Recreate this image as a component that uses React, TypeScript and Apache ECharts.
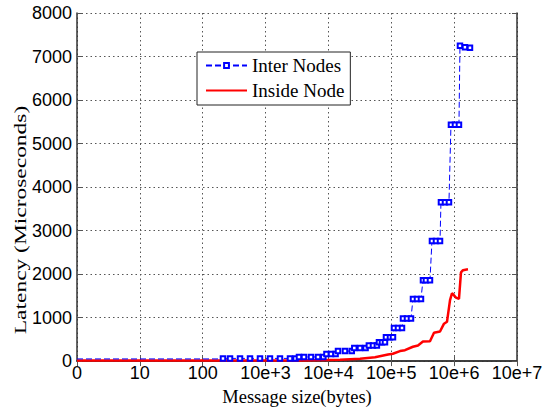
import React, { useEffect, useRef } from 'react';
import * as echarts from 'echarts';

const xTickLabels = ['0', '10', '100', '10e+3', '10e+4', '10e+5', '10e+6', '10e+7'];

const interX = [
  1, 200,
  210, 272, 392, 565, 815, 1175, 1695, 2445, 3000,
  3400, 4085, 5275, 6820, 8300,
  9300, 11000, 13000,
  14200, 18330, 23500,
  25800, 31770, 39000,
  44000, 51150, 59000,
  63700, 71100, 79350,
  82300, 95300, 106400,
  110400, 127800, 148000,
  153500, 177800, 205700,
  221400, 256400, 296700,
  319400, 356000, 412600,
  443700, 514000, 596000,
  617000, 715000, 827000,
  890000, 1031000, 1193000,
  1238000, 1486000, 1786000,
];
const interY = [
  50, 50,
  62, 62, 62, 62, 62, 62, 62, 62, 62,
  95, 95, 95, 95, 95,
  165, 165, 165,
  230, 230, 230,
  300, 300, 300,
  360, 360, 360,
  435, 435, 435,
  550, 550, 550,
  760, 760, 760,
  980, 980, 980,
  1430, 1430, 1430,
  1860, 1860, 1860,
  2760, 2760, 2760,
  3650, 3650, 3650,
  5430, 5430, 5430,
  7250, 7210, 7200,
];

const insideX = [
  1, 3530, 15300, 31800, 55100, 88700, 106000, 137500, 165000, 221000, 266000,
  319000, 413000, 478000, 596000, 690000, 770000, 860000, 924000, 1070000,
  1194000, 1285000, 1384000, 1660000,
];
const insideY = [
  15, 15, 30, 55, 90, 150, 170, 230, 250, 330, 360,
  450, 455, 650, 680, 860, 905, 1400, 1560, 1460,
  1430, 2040, 2090, 2110,
];

export default function App() {
  const ref = useRef<HTMLDivElement>(null);
  useEffect(() => {
    const chart = echarts.init(ref.current!, null, { renderer: 'svg' });
    const tickLabel = (v: number) => {
      const i = Math.round(Math.log10(v));
      return xTickLabels[i] ?? '';
    };
    const axisLine = { show: true, lineStyle: { color: '#333', width: 1.5 } };
    const axisTick = { show: true, inside: true, length: 5, lineStyle: { color: '#555', width: 1 } };
    const gridLine = { show: true, lineStyle: { color: '#555', width: 1, type: [1.5, 3] as any } };
    chart.setOption({
      animation: false,
      backgroundColor: '#fff',
      grid: { left: 77, right: 29, top: 13, bottom: 48, containLabel: false },
      xAxis: [
        {
          type: 'log', logBase: 10, min: 1, max: 1e7, interval: 1,
          position: 'bottom',
          axisLine, axisTick, splitLine: gridLine, minorTick: { show: false },
          axisLabel: {
            formatter: tickLabel, color: '#000', fontSize: 18,
            fontFamily: '"Liberation Sans", Arial', margin: 3,
          },
          name: 'Message size(bytes)', nameLocation: 'middle', nameGap: 17,
          nameTextStyle: { fontFamily: '"Liberation Serif"', fontSize: 18.5, color: '#000' },
        },
        {
          type: 'log', logBase: 10, min: 1, max: 1e7, interval: 1,
          position: 'top',
          axisLine, axisTick, splitLine: { show: false },
          axisLabel: { show: false },
        },
      ],
      yAxis: [
        {
          type: 'value', min: 0, max: 8000, interval: 1000,
          position: 'left',
          axisLine, axisTick, splitLine: gridLine,
          axisLabel: {
            formatter: (v: number) => String(v),
            color: '#000', fontSize: 18, fontFamily: '"Liberation Sans", Arial', margin: 5,
          },
        },
        {
          type: 'value', min: 0, max: 8000, interval: 1000,
          position: 'right',
          axisLine, axisTick, splitLine: { show: false },
          axisLabel: { show: false },
        },
      ],
      legend: {
        orient: 'vertical', left: 197, top: 52,
        itemWidth: 41, itemHeight: 6, itemGap: 6,
        padding: [4, 6, 5, 8],
        backgroundColor: '#fff', borderColor: '#222', borderWidth: 1, borderRadius: 0,
        textStyle: { fontFamily: '"Liberation Serif"', fontSize: 19, color: '#000' },
        data: [
          { name: 'Inter Nodes' },
          { name: 'Inside Node', itemStyle: { opacity: 0 } },
        ],
      },
      graphic: [
        {
          type: 'text', x: 20, y: 220, rotation: Math.PI / 2, scaleX: 1.38,
          style: {
            text: 'Latency (Microseconds)', font: '17px "Liberation Serif"', fill: '#000',
            align: 'center', verticalAlign: 'middle',
          },
        },
      ],
      series: [
        {
          name: 'Inside Node', type: 'line', xAxisIndex: 0, yAxisIndex: 0,
          data: insideX.map((x, i) => [x, insideY[i]]),
          symbol: 'none',
          lineStyle: { color: '#ff0000', width: 2.5 },
          itemStyle: { color: '#ff0000' },
          z: 2,
        },
        {
          name: 'Inter Nodes', type: 'line', xAxisIndex: 0, yAxisIndex: 0,
          data: interX.map((x, i) => (i < 2 ? { value: [x, interY[i]], symbol: 'none' } : [x, interY[i]])),
          symbol: 'emptyRect', symbolSize: 4.5, showSymbol: true, showAllSymbol: true,
          lineStyle: { color: '#0000ff', width: 1, type: [6, 3] },
          itemStyle: { color: '#0000ff', borderWidth: 1 },
          z: 3,
        },
      ],
    });
    return () => chart.dispose();
  }, []);
  return (
    <div
      ref={ref}
      style={{ position: 'fixed', left: 0, top: 0, width: 546, height: 411 }}
    />
  );
}
